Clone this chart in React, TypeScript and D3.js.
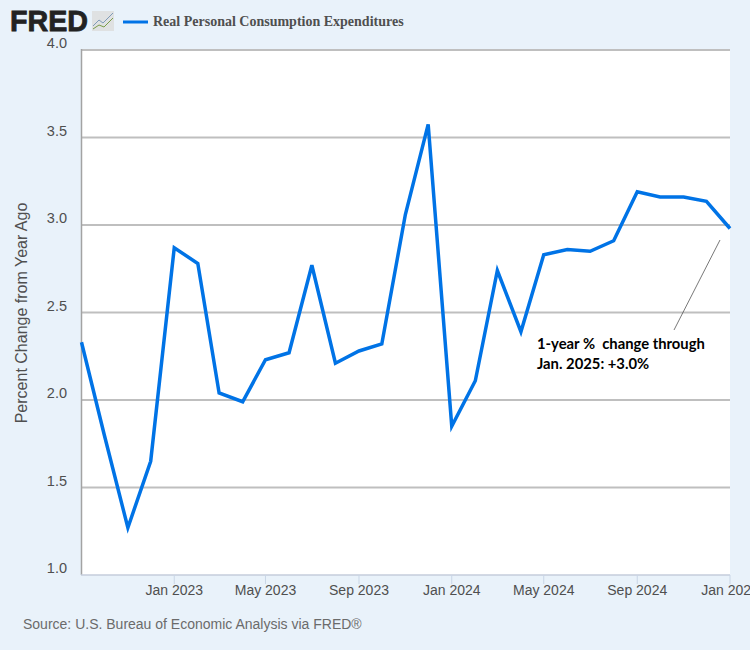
import React from "react";
import * as d3 from "d3";

const months: string[] = ["2022-09","2022-10","2022-11","2022-12","2023-01","2023-02","2023-03","2023-04","2023-05","2023-06","2023-07","2023-08","2023-09","2023-10","2023-11","2023-12","2024-01","2024-02","2024-03","2024-04","2024-05","2024-06","2024-07","2024-08","2024-09","2024-10","2024-11","2024-12","2025-01"];
const pceChange: number[] = [2.33,1.8,1.27,1.65,2.87,2.78,2.04,1.99,2.23,2.27,2.77,2.21,2.28,2.32,3.06,3.575,1.85,2.11,2.74,2.39,2.83,2.86,2.85,2.91,3.19,3.16,3.16,3.135,2.98];
const yTicks: number[] = [1,1.5,2,2.5,3,3.5,4];
const xTickMonths: string[] = ["2023-01","2023-05","2023-09","2024-01","2024-05","2024-09","2025-01"];
const seriesName = "Real Personal Consumption Expenditures";
const yTitle = "Percent Change from Year Ago";
const source = "Source: U.S. Bureau of Economic Analysis via FRED®";
const noteLines: string[] = ["1-year %  change through","Jan. 2025: +3.0%"];

const parse = d3.timeParse("%Y-%m") as (s: string) => Date;
const sans = "'Liberation Sans', Arial, sans-serif";

export default function App() {
  const x = d3.scaleTime().domain([parse(months[0]), parse(months[months.length - 1])]).range([81.5, 730]);
  const y = d3.scaleLinear().domain([1, 4]).range([575, 50]);
  const line = d3.line<number>().x((_, i) => x(parse(months[i]))).y((d) => y(d));
  const fmt = d3.timeFormat("%b %Y");
  return (
    <div style={{ position: "fixed", left: 0, top: 0, width: 750, height: 650, overflow: "hidden" }}>
      <svg width={750} height={650} style={{ display: "block" }}>
        <rect width={750} height={650} fill="#e9f2fa" />
        <rect x={81.5} y={50} width={648.5} height={525} fill="#ffffff" />
        {yTicks.slice(1).map((t) => (
          <line key={t} x1={81.5} x2={730} y1={y(t)} y2={y(t)} stroke="#bfbfbf" strokeWidth={2} />
        ))}
        <line x1={81.5} x2={81.5} y1={49} y2={575} stroke="#a3a3a3" strokeWidth={1.5} />
        <line x1={81} x2={730} y1={575} y2={575} stroke="#c4cddb" strokeWidth={1.5} />
        {xTickMonths.map((m) => {
          const px = x(parse(m));
          return (
            <g key={m}>
              <line x1={px} x2={px} y1={575} y2={584} stroke="#c9d6e6" strokeWidth={1} />
              <text x={px} y={595} textAnchor="middle" fontFamily={sans} fontSize={14} fill="#4f4f4f">{fmt(parse(m))}</text>
            </g>
          );
        })}
        {yTicks.map((t) => (
          <text key={t} x={67} y={y(t) - 2} textAnchor="end" fontFamily={sans} fontSize={14.5} fill="#4f4f4f">{t.toFixed(1)}</text>
        ))}
        <text transform="translate(27,313) rotate(-90)" textAnchor="middle" fontFamily={sans} fontSize={16} fill="#4f4f4f">{yTitle}</text>
        <path d={line(pceChange) ?? ""} fill="none" stroke="#0073e6" strokeWidth={3.5} strokeLinejoin="miter" />
        <line x1={720} y1={240} x2={674} y2={330} stroke="#555555" strokeWidth={0.8} />
        {noteLines.map((s, i) => (
          <text key={s} x={537} y={349 + i * 20} xmlSpace="preserve" fontFamily="Lato, 'Open Sans', sans-serif" fontWeight={700} fontSize={14.8} fill="#000000">{s}</text>
        ))}
        <text x={10} y={31} fontFamily={sans} fontWeight={700} fontSize={29} fill="#222222" stroke="#222222" strokeWidth={0.8} textLength={78} lengthAdjust="spacingAndGlyphs">FRED</text>
        <rect x={92} y={11} width={22} height={20} fill="#dcdcdc" opacity={0.8} />
        <path d="M93,26 L99,20 L103,23 L113,13" fill="none" stroke="#7e9ab8" strokeWidth={1} />
        <path d="M93,29 L99,25 L104,27 L113,18" fill="none" stroke="#7a9c4a" strokeWidth={1} />
        <line x1={123} x2={148} y1={22} y2={22} stroke="#0073e6" strokeWidth={3} />
        <text x={153} y={26} fontFamily="'Liberation Serif', serif" fontWeight={700} fontSize={14} fill="#4f4f4f">{seriesName}</text>
        <text x={23} y={629} fontFamily={sans} fontSize={14} fill="#6b6b6b">{source}</text>
      </svg>
    </div>
  );
}
